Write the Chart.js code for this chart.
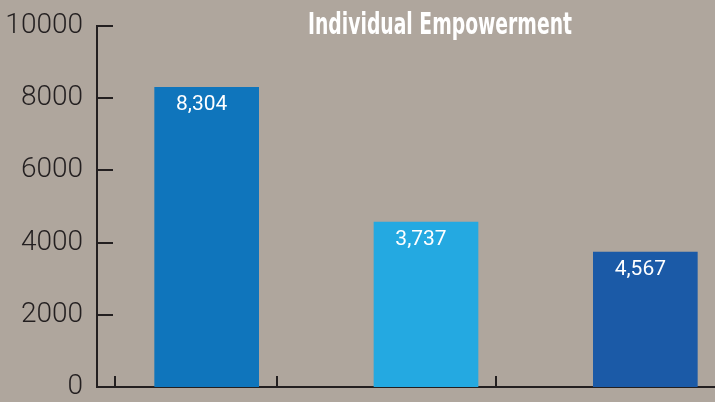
<!DOCTYPE html>
<html>
<head>
<meta charset="utf-8">
<script src="https://cdn.jsdelivr.net/npm/chart.js@4/dist/chart.umd.min.js"></script>
<style>
    /* 画布比窗口大, 第三个柱子右侧被裁掉 */
    html, body { margin: 0; padding: 0; overflow: hidden; background: #afa69d; }
    .chart-container { position: relative; width: 755px; height: 408px; }
</style>
</head>
<body>
<div class="chart-container">
    <canvas id="empChart"></canvas>
</div>
<script>
    const categories = ['A', 'B', 'C'];
    const barValues = [8304, 4567, 3737];
    const barLabels = ['8,304', '3,737', '4,567'];
    const barColors = ['#0f75bc', '#24a9e1', '#1b5aa7'];
    const yTicks = [0, 2000, 4000, 6000, 8000, 10000];
    const xTickMarks = [-0.42, 0.32, 1.32];
    const chartTitle = 'Individual Empowerment';

    const axisColor = '#231f20';

    // 刻度线朝内, 标题和柱内数值
    const decorPlugin = {
        id: 'decor',
        afterDraw(chart) {
            const ctx = chart.ctx;
            const x = chart.scales.x, y = chart.scales.y;
            const left = chart.chartArea.left, bottom = chart.chartArea.bottom;
            ctx.save();
            ctx.strokeStyle = axisColor;
            ctx.lineWidth = 2;
            yTicks.forEach(v => {
                const py = Math.round(y.getPixelForValue(v));
                ctx.beginPath();
                ctx.moveTo(left, py);
                ctx.lineTo(left + 16, py);
                ctx.stroke();
            });
            xTickMarks.forEach(v => {
                const px = Math.round(x.getPixelForValue(0) + v * (x.getPixelForValue(1) - x.getPixelForValue(0)));
                ctx.beginPath();
                ctx.moveTo(px, bottom);
                ctx.lineTo(px, bottom - 11);
                ctx.stroke();
            });

            const meta = chart.getDatasetMeta(0);
            ctx.fillStyle = '#ffffff';
            ctx.font = '21px Roboto';
            ctx.textAlign = 'center';
            ctx.textBaseline = 'middle';
            meta.data.forEach((bar, i) => {
                ctx.fillText(barLabels[i], bar.x - 5, bar.y + 18);
            });

            // 标题字体很窄, 横向压缩
            ctx.font = 'bold 30px "DejaVu Sans Condensed"';
            ctx.textBaseline = 'alphabetic';
            const w = ctx.measureText(chartTitle).width;
            ctx.translate(440, 34);
            ctx.scale(264 / w, 1);
            ctx.fillText(chartTitle, 0, 0);
            ctx.restore();
        }
    };

    new Chart(document.getElementById('empChart'), {
        type: 'bar',
        data: {
            labels: categories,
            datasets: [{
                data: barValues,
                backgroundColor: barColors,
                barThickness: 104
            }]
        },
        options: {
            responsive: true,
            maintainAspectRatio: false,
            animation: false,
            layout: { padding: { top: 26, bottom: 10, right: 0, left: 0 } },
            plugins: { legend: { display: false }, tooltip: { enabled: false } },
            scales: {
                x: {
                    ticks: { display: false },
                    grid: { display: false, drawTicks: false },
                    border: { display: true, color: axisColor, width: 2 },
                    afterFit(scale) { scale.height = 0; }
                },
                y: {
                    min: 0,
                    max: 10000,
                    afterFit(scale) { scale.width = 97; },
                    afterBuildTicks(scale) { scale.ticks = yTicks.map(v => ({ value: v })); },
                    ticks: {
                        color: axisColor,
                        padding: 14,
                        callback: v => String(v),
                        font: { family: 'Roboto', weight: 300, size: 28, lineHeight: 0.5 }
                    },
                    grid: { display: false, drawTicks: false },
                    border: { display: true, color: axisColor, width: 2 }
                }
            }
        },
        plugins: [decorPlugin]
    });
</script>
</body>
</html>
